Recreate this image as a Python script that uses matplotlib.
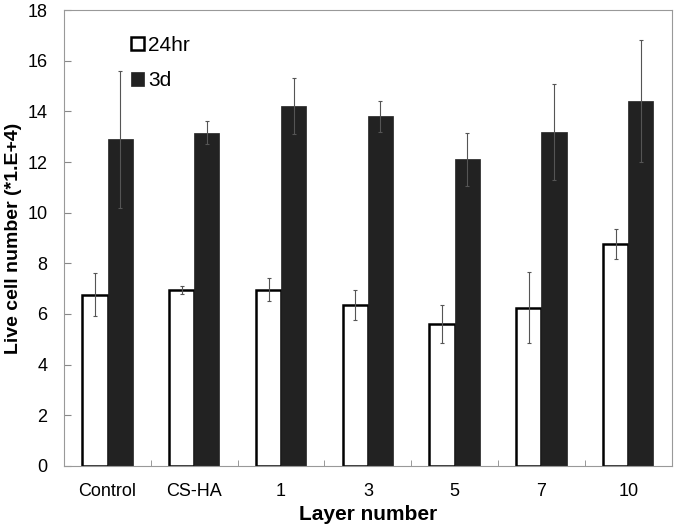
import numpy as np
import matplotlib.pyplot as plt

plt.rcParams['font.family'] = ['Liberation Sans', 'DejaVu Sans']

# data
groups = ['Control', 'CS-HA', '1', '3', '5', '7', '10']
hr24 = [6.75, 6.95, 6.95, 6.35, 5.6, 6.25, 8.75]
hr24_err = [0.85, 0.15, 0.45, 0.6, 0.75, 1.4, 0.6]
day3 = [12.9, 13.15, 14.2, 13.8, 12.1, 13.2, 14.4]
day3_err = [2.7, 0.45, 1.1, 0.6, 1.05, 1.9, 2.4]

x = np.arange(len(groups))
w = 0.29

fig = plt.figure(figsize=(6.75, 5.3), dpi=100)
ax = fig.add_axes([0.095, 0.121, 0.9, 0.86])

ax.bar(x - w / 2, hr24, w, color='white', edgecolor='black', linewidth=1.8, label='24hr',
       yerr=hr24_err, error_kw=dict(ecolor='#555555', elinewidth=0.8, capsize=1.5, capthick=0.8))
ax.bar(x + w / 2, day3, w, color='#222222', edgecolor='#222222', linewidth=0.5, label='3d',
       yerr=day3_err, error_kw=dict(ecolor='#555555', elinewidth=0.8, capsize=1.5, capthick=0.8))

ax.set_xlim(-0.5, len(groups) - 0.5)
ax.set_ylim(0, 18)
ax.set_yticks(np.arange(0, 19, 2))
ax.set_xticks(x)
ax.set_xticklabels(groups, fontsize=13)
ax.tick_params(axis='x', length=0, pad=12)
ax.set_xticks(np.arange(0.5, len(groups) - 0.5, 1), minor=True)
ax.tick_params(axis='x', which='minor', direction='in', length=4, color='#888888')
ax.tick_params(axis='y', direction='in', length=5, color='#888888', labelsize=13, pad=12)

for s in ax.spines.values():
    s.set_color('#999999')

ax.set_xlabel('Layer number', fontsize=15, fontweight='bold', labelpad=4)
ax.set_ylabel('Live cell number (*1.E+4)', fontsize=14, fontweight='bold', labelpad=4)

ax.legend(loc='upper left', bbox_to_anchor=(0.08, 0.985), frameon=False, fontsize=15,
          handlelength=0.6, handleheight=0.6, handletextpad=0.2, labelspacing=0.8)

fig.savefig('out.png', dpi=100)
